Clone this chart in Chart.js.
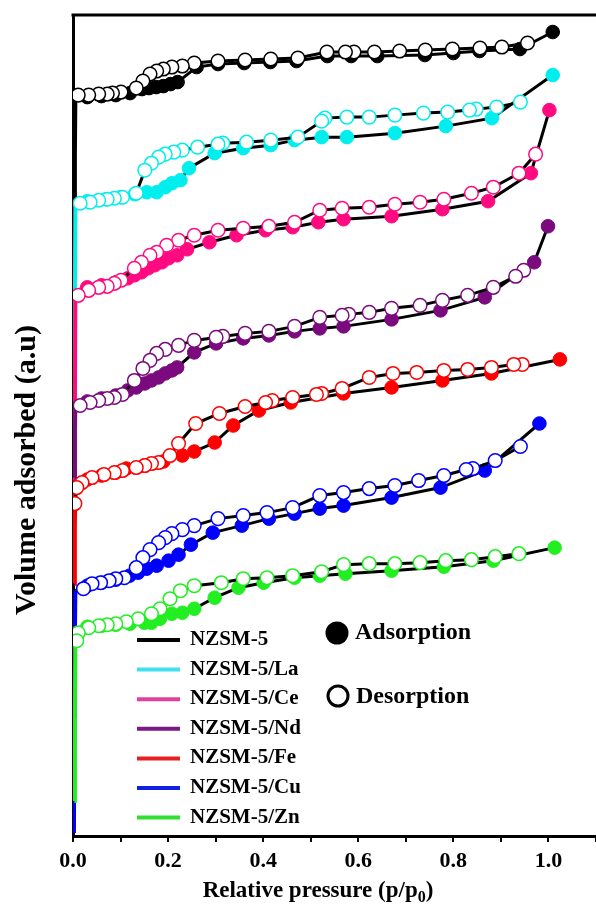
<!DOCTYPE html>
<html>
<head>
<meta charset="utf-8">
<script src="https://cdn.jsdelivr.net/npm/chart.js@4.4.1/dist/chart.umd.min.js"></script>
<style>
  html, body { margin: 0; padding: 0; background: #fff; }
  #wrap { width: 596px; height: 907px; }
</style>
</head>
<body>
<div id="wrap"><canvas id="isoChart" width="596" height="907"></canvas></div>
<script>
// N2 adsorption/desorption isotherms, values as [p/p0, volume (a.u.)]
const seriesNames = ['NZSM-5', 'NZSM-5/La', 'NZSM-5/Ce', 'NZSM-5/Nd', 'NZSM-5/Fe', 'NZSM-5/Cu', 'NZSM-5/Zn'];
const seriesColors = ['#000000', '#00EEEE', '#FF0A80', '#7A0A7E', '#FF0000', '#0000FF', '#22EE22'];
const legendColors = ['#000000', '#40E0F0', '#E0409A', '#7B1A85', '#E82020', '#1020E0', '#30E030'];
const xTickLabels = ['0.0', '0.2', '0.4', '0.6', '0.8', '1.0'];

const nzsm5Ads = [[0.003,615],[0.004,680],[0.005,740],[0.03,738],[0.06,739],[0.09,740],[0.12,742],[0.145,746],[0.16,747],[0.175,748],[0.19,749],[0.205,751],[0.22,753],[0.26,768],[0.305,771],[0.36,772],[0.415,773],[0.47,774],[0.535,779],[0.585,779],[0.64,779],[0.74,780],[0.80,782],[0.855,784],[0.94,786],[1.009,803]];
const nzsm5Des = [[0.956,792],[0.902,788],[0.856,787],[0.798,786],[0.741,785],[0.687,784],[0.634,783],[0.591,783],[0.573,783],[0.534,783],[0.473,777],[0.416,776],[0.362,775],[0.305,774],[0.255,772],[0.23,769],[0.208,768],[0.19,766],[0.176,764],[0.162,761],[0.147,754],[0.133,747],[0.101,743],[0.083,742],[0.072,741],[0.054,741],[0.033,740],[0.011,740]];

const laAds = [[0.004,438],[0.004,540],[0.005,632],[0.03,634],[0.07,636],[0.1,638],[0.13,641],[0.155,643],[0.176,643],[0.194,648],[0.208,652],[0.226,655],[0.244,667],[0.298,682],[0.358,687],[0.416,690],[0.466,695],[0.523,698],[0.576,698],[0.677,702],[0.784,709],[0.881,717],[1.009,760]];
const laDes = [[0.941,733],[0.891,728],[0.848,726],[0.834,725],[0.788,723],[0.737,722],[0.677,720],[0.623,718],[0.576,718],[0.53,717],[0.523,714],[0.473,698],[0.416,695],[0.365,693],[0.315,692],[0.305,691],[0.262,688],[0.23,685],[0.212,683],[0.194,681],[0.18,678],[0.165,672],[0.151,665],[0.133,642],[0.104,638],[0.087,637],[0.072,636],[0.054,635],[0.036,633],[0.015,632]];

const ceAds = [[0.003,320],[0.004,430],[0.005,545],[0.03,548],[0.06,550],[0.09,553],[0.115,557],[0.129,560],[0.144,563],[0.158,567],[0.172,570],[0.187,573],[0.201,577],[0.219,580],[0.24,586],[0.287,593],[0.344,600],[0.405,605],[0.462,608],[0.516,613],[0.569,616],[0.67,619],[0.777,626],[0.873,634],[0.963,662],[1.002,725]];
const ceDes = [[0.973,681],[0.938,662],[0.884,648],[0.838,642],[0.78,636],[0.73,633],[0.677,631],[0.623,628],[0.566,627],[0.519,625],[0.466,613],[0.412,609],[0.358,607],[0.305,605],[0.255,600],[0.222,595],[0.197,590],[0.176,583],[0.162,580],[0.144,573],[0.129,567],[0.101,555],[0.087,552],[0.072,549],[0.054,548],[0.033,545],[0.011,540]];

const ndAds = [[0.003,358],[0.004,400],[0.005,432],[0.03,434],[0.06,437],[0.09,440],[0.115,445],[0.133,448],[0.151,452],[0.165,455],[0.18,458],[0.194,462],[0.208,465],[0.219,468],[0.255,483],[0.301,492],[0.358,497],[0.412,500],[0.466,504],[0.519,507],[0.569,509],[0.67,516],[0.773,525],[0.866,538],[0.97,573],[0.999,609]];
const ndDes = [[0.948,565],[0.931,559],[0.884,548],[0.83,540],[0.777,535],[0.73,530],[0.67,527],[0.623,523],[0.58,521],[0.566,520],[0.519,518],[0.466,509],[0.412,504],[0.362,502],[0.315,499],[0.301,498],[0.255,495],[0.222,490],[0.194,486],[0.176,482],[0.162,475],[0.147,467],[0.129,455],[0.104,441],[0.087,438],[0.072,437],[0.054,435],[0.036,433],[0.015,430]];

const feAds = [[0.003,252],[0.004,310],[0.005,350],[0.03,356],[0.06,360],[0.09,363],[0.112,367],[0.15,370],[0.19,374],[0.23,380],[0.255,384],[0.298,393],[0.337,410],[0.391,425],[0.458,433],[0.569,442],[0.67,448],[0.777,455],[0.88,462],[1.024,476]];
const feDes = [[0.945,471],[0.927,471],[0.88,468],[0.83,466],[0.78,465],[0.723,463],[0.673,462],[0.623,458],[0.566,447],[0.523,442],[0.512,441],[0.462,438],[0.419,435],[0.405,433],[0.362,429],[0.308,422],[0.258,412],[0.222,392],[0.204,380],[0.18,373],[0.165,372],[0.151,370],[0.133,368],[0.104,365],[0.087,363],[0.065,361],[0.04,358],[0.019,353],[0.008,348],[0.004,332]];

const cuAds = [[0.002,3],[0.003,120],[0.004,200],[0.005,245],[0.03,250],[0.06,253],[0.09,256],[0.119,260],[0.137,263],[0.155,267],[0.176,270],[0.201,275],[0.222,281],[0.248,291],[0.294,303],[0.355,310],[0.412,317],[0.466,322],[0.519,327],[0.569,330],[0.67,338],[0.773,348],[0.866,365],[0.981,412]];
const cuDes = [[0.941,389],[0.888,375],[0.841,367],[0.827,366],[0.78,360],[0.727,355],[0.677,350],[0.623,347],[0.569,343],[0.519,340],[0.462,328],[0.408,323],[0.358,320],[0.305,317],[0.255,310],[0.23,306],[0.208,302],[0.194,298],[0.18,293],[0.162,286],[0.147,278],[0.133,268],[0.108,258],[0.09,257],[0.076,255],[0.058,253],[0.04,252],[0.022,247]];

const znAds = [[0.003,35],[0.004,120],[0.005,208],[0.03,209],[0.06,210],[0.09,211],[0.12,212],[0.15,213],[0.165,213],[0.183,217],[0.208,222],[0.23,223],[0.255,227],[0.298,238],[0.348,248],[0.401,253],[0.466,258],[0.519,260],[0.573,262],[0.67,265],[0.78,269],[0.884,275],[1.013,288]];
const znDes = [[0.938,282],[0.888,279],[0.838,276],[0.784,275],[0.73,273],[0.677,272],[0.623,272],[0.569,271],[0.523,264],[0.462,260],[0.408,258],[0.358,257],[0.312,253],[0.255,250],[0.226,245],[0.204,237],[0.183,227],[0.165,222],[0.137,217],[0.112,214],[0.09,212],[0.072,211],[0.054,210],[0.033,208],[0.011,203],[0.008,195]];

const adsList = [nzsm5Ads, laAds, ceAds, ndAds, feAds, cuAds, znAds];
const desList = [nzsm5Des, laDes, ceDes, ndDes, feDes, cuDes, znDes];

const SERIF = '"Liberation Serif", "Times New Roman", serif';
const LOW_P = 0.005; // points below this form the coloured vertical rise

const toXY = arr => arr.map(p => ({ x: p[0], y: p[1] }));

const datasets = [];
seriesNames.forEach((name, i) => {
  const col = seriesColors[i];
  datasets.push({
    label: name + ' adsorption',
    data: toXY(adsList[i]),
    showLine: true,
    borderColor: '#000',
    borderWidth: 3,
    pointRadius: c => (c.raw && c.raw.x <= LOW_P) ? 0 : 6.8,
    pointBackgroundColor: col,
    pointBorderColor: col,
    pointBorderWidth: 1,
    segment: {
      borderColor: c => c.p1.parsed.x <= LOW_P ? col : '#000',
      borderWidth: c => c.p1.parsed.x <= LOW_P ? 4 : 3
    }
  });
  datasets.push({
    label: name + ' desorption',
    data: toXY(desList[i]),
    showLine: true,
    borderColor: '#000',
    borderWidth: 3,
    pointRadius: 6.8,
    pointBackgroundColor: '#fff',
    pointBorderColor: col,
    pointBorderWidth: 1.5
  });
});
// later series sit on top, desorption above adsorption
datasets.forEach((d, i) => { d.order = 100 - i; });

const decorations = {
  id: 'decorations',
  afterDraw(chart) {
    const { ctx, chartArea } = chart;
    ctx.save();
    // top frame line
    ctx.strokeStyle = '#000';
    ctx.lineWidth = 3;
    ctx.beginPath();
    ctx.moveTo(chartArea.left - 1.5, chartArea.top);
    ctx.lineTo(chart.width, chartArea.top);
    ctx.stroke();

    // x title with subscript
    ctx.fillStyle = '#000';
    ctx.textBaseline = 'alphabetic';
    ctx.textAlign = 'left';
    const main = 'Relative pressure (p/p';
    ctx.font = 'bold 23px ' + SERIF;
    const w1 = ctx.measureText(main).width;
    ctx.font = 'bold 16px ' + SERIF;
    const w2 = ctx.measureText('0').width;
    ctx.font = 'bold 23px ' + SERIF;
    const w3 = ctx.measureText(')').width;
    const x0 = 318 - (w1 + w2 + w3) / 2;
    const by = 897;
    ctx.fillText(main, x0, by);
    ctx.font = 'bold 16px ' + SERIF;
    ctx.fillText('0', x0 + w1, by + 5);
    ctx.font = 'bold 23px ' + SERIF;
    ctx.fillText(')', x0 + w1 + w2, by);

    // y title
    ctx.save();
    ctx.translate(35, 470);
    ctx.rotate(-Math.PI / 2);
    ctx.textAlign = 'center';
    ctx.font = 'bold 30px ' + SERIF;
    ctx.fillText('Volume adsorbed (a.u)', 0, 0);
    ctx.restore();

    // series legend
    ctx.font = 'bold 21px ' + SERIF;
    ctx.textAlign = 'left';
    seriesNames.forEach((name, i) => {
      const base = 645 + i * 29.6;
      ctx.strokeStyle = legendColors[i];
      ctx.lineWidth = 4;
      ctx.beginPath();
      ctx.moveTo(137, base - 5);
      ctx.lineTo(180, base - 5);
      ctx.stroke();
      ctx.fillStyle = '#000';
      ctx.fillText(name, 190, base);
    });

    // marker legend
    ctx.font = 'bold 24px ' + SERIF;
    ctx.fillStyle = '#000';
    ctx.beginPath();
    ctx.arc(337, 633, 11.5, 0, Math.PI * 2);
    ctx.fill();
    ctx.fillText('Adsorption', 355, 639);
    ctx.strokeStyle = '#000';
    ctx.lineWidth = 3;
    ctx.beginPath();
    ctx.arc(338, 696, 10, 0, Math.PI * 2);
    ctx.stroke();
    ctx.fillText('Desorption', 356, 703);
    ctx.restore();
  }
};

const ctx = document.getElementById('isoChart').getContext('2d');
new Chart(ctx, {
  type: 'scatter',
  data: { datasets },
  options: {
    responsive: false,
    animation: false,
    devicePixelRatio: 1,
    layout: { autoPadding: false, padding: { top: 15, right: 0, left: 0, bottom: 0 } },
    plugins: { legend: { display: false }, tooltip: { enabled: false } },
    scales: {
      x: {
        type: 'linear',
        min: 0,
        max: 1.1,
        afterFit: s => { s.height = 71; s.paddingRight = 0; s.paddingLeft = 0; },
        ticks: {
          stepSize: 0.1,
          autoSkip: false,
          maxRotation: 0,
          padding: 6,
          color: '#000',
          font: { family: SERIF, size: 22, weight: 'bold' },
          callback: v => {
            const lbl = Number(v).toFixed(1);
            return xTickLabels.includes(lbl) ? lbl : '';
          }
        },
        grid: { drawOnChartArea: false, drawTicks: true, tickLength: 6, color: '#000', lineWidth: 2 },
        border: { display: true, color: '#000', width: 3 }
      },
      y: {
        min: 0,
        max: 820,
        afterFit: s => { s.width = 73; },
        ticks: { display: false },
        grid: { drawOnChartArea: false, drawTicks: false },
        border: { display: true, color: '#000', width: 3 }
      }
    }
  },
  plugins: [decorations]
});
</script>
</body>
</html>
